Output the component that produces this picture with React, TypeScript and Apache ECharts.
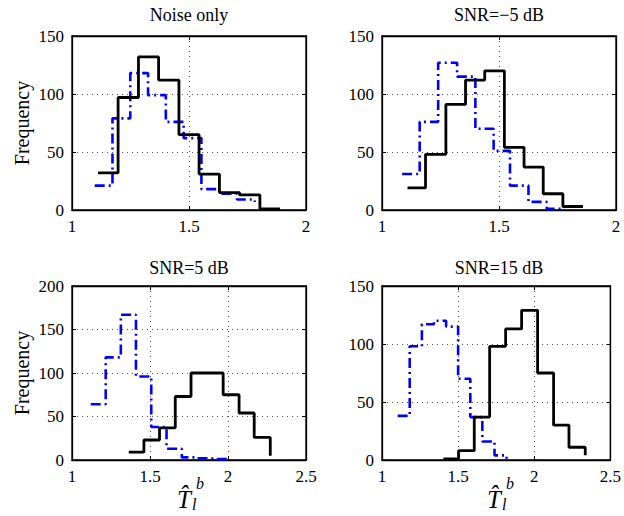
import React, { useEffect, useRef } from "react";
import * as echarts from "echarts";

// ---- data ----
const titles = ["Noise only", "SNR=\u22125 dB", "SNR=5 dB", "SNR=15 dB"];
const xMaxes = [2, 2, 2.5, 2.5];
const yMaxes = [150, 150, 200, 150];

// Panel 1: Noise only
const p1BlackX = [1.111, 1.197, 1.284, 1.37, 1.457, 1.543, 1.63, 1.716, 1.803, 1.889];
const p1BlackY = [32, 97, 132, 112, 65, 31, 15, 13, 1, 1];
const p1BlueX = [1.097, 1.173, 1.249, 1.325, 1.401, 1.477, 1.553, 1.629, 1.705, 1.781];
const p1BlueY = [21, 79, 118, 99, 76, 62, 18, 14, 9, 7];

// Panel 2: SNR = -5 dB
const p2BlackX = [1.109, 1.186, 1.273, 1.357, 1.439, 1.523, 1.607, 1.689, 1.773, 1.859];
const p2BlackY = [19, 48, 91, 112, 120, 54, 37, 14, 3, 3];
const p2BlueX = [1.086, 1.161, 1.24, 1.321, 1.399, 1.477, 1.547, 1.626, 1.704, 1.781];
const p2BlueY = [31, 76, 127, 115, 70, 51, 21, 7, 1, 1];

// Panel 3: SNR = 5 dB
const p3BlackX = [1.364, 1.461, 1.561, 1.662, 1.763, 1.866, 1.969, 2.071, 2.168, 2.271];
const p3BlackY = [9, 23, 37, 73, 100, 100, 75, 54, 26, 5];
const p3BlueX = [1.12, 1.216, 1.313, 1.41, 1.508, 1.606, 1.704, 1.8, 1.9, 1.996];
const p3BlueY = [64, 118, 167, 96, 38, 13, 3, 2, 1, 0];

// Panel 4: SNR = 15 dB
const p4BlackX = [1.403, 1.503, 1.606, 1.707, 1.812, 1.917, 2.022, 2.127, 2.228, 2.335];
const p4BlackY = [1, 8, 37, 98, 113, 129, 75, 30, 11, 4];
const p4BlueX = [1.103, 1.182, 1.262, 1.341, 1.421, 1.5, 1.58, 1.659, 1.739, 1.818];
const p4BlueY = [38, 98, 117, 120, 115, 70, 37, 16, 4, 1];

const blackXs = [p1BlackX, p2BlackX, p3BlackX, p4BlackX];
const blackYs = [p1BlackY, p2BlackY, p3BlackY, p4BlackY];
const blueXs = [p1BlueX, p2BlueX, p3BlueX, p4BlueX];
const blueYs = [p1BlueY, p2BlueY, p3BlueY, p4BlueY];

const FONT = "'Liberation Serif', 'Times New Roman', serif";

const zip = (xs: number[], ys: number[]) => xs.map((x, i) => [x, ys[i]]);

export default function App() {
  const ref = useRef<HTMLDivElement>(null);

  useEffect(() => {
    if (!ref.current) return;
    const chart = echarts.init(ref.current, undefined, { renderer: "svg" });

    const gridPos = [
      { left: 72, top: 36 },
      { left: 382, top: 36 },
      { left: 72, top: 286 },
      { left: 382, top: 286 },
    ];
    const grid = gridPos.map((g) => ({
      left: g.left,
      top: g.top,
      width: 234,
      height: 174,
      show: true,
      borderColor: "#000",
      borderWidth: 1.3,
      backgroundColor: "#fff",
    }));

    const axisLine = { show: true, onZero: false, lineStyle: { color: "#000", width: 1.3 } };
    const axisTick = { show: true, inside: true, length: 4, lineStyle: { color: "#000", width: 1 } };
    const splitLine = { show: true, lineStyle: { color: "#555", width: 1, type: [1, 4] } };
    const labelStyle = { color: "#000", fontFamily: FONT, fontSize: 17 };

    const xAxis: any[] = [];
    const yAxis: any[] = [];
    for (let i = 0; i < 4; i++) {
      xAxis.push({
        type: "value",
        gridIndex: i,
        min: 1,
        max: xMaxes[i],
        interval: 0.5,
        position: "bottom",
        axisLine,
        axisTick,
        splitLine,
        axisLabel: { ...labelStyle, margin: 8 },
      });
      yAxis.push({
        type: "value",
        gridIndex: i,
        min: 0,
        max: yMaxes[i],
        interval: 50,
        position: "left",
        axisLine,
        axisTick,
        splitLine,
        axisLabel: { ...labelStyle, margin: 8 },
        name: i % 2 === 0 ? "Frequency" : "",
        nameLocation: "middle",
        nameGap: 40,
        nameTextStyle: { color: "#000", fontFamily: FONT, fontSize: 20 },
      });
    }
    for (let i = 0; i < 4; i++) {
      xAxis.push({
        type: "value",
        gridIndex: i,
        min: 1,
        max: xMaxes[i],
        interval: 0.5,
        position: "top",
        axisLine,
        axisTick,
        splitLine: { show: false },
        axisLabel: { show: false },
      });
      yAxis.push({
        type: "value",
        gridIndex: i,
        min: 0,
        max: yMaxes[i],
        interval: 50,
        position: "right",
        axisLine,
        axisTick,
        splitLine: { show: false },
        axisLabel: { show: false },
      });
    }

    const series: any[] = [];
    for (let i = 0; i < 4; i++) {
      series.push({
        type: "line",
        xAxisIndex: i,
        yAxisIndex: i,
        step: "end",
        showSymbol: false,
        symbol: "none",
        data: zip(blueXs[i], blueYs[i]),
        lineStyle: { color: "#0000ff", width: 2.6, type: [10, 4, 2, 4] },
        z: 2,
      });
      series.push({
        type: "line",
        xAxisIndex: i,
        yAxisIndex: i,
        step: "end",
        showSymbol: false,
        symbol: "none",
        data: zip(blackXs[i], blackYs[i]),
        lineStyle: { color: "#000", width: 2.8 },
        z: 3,
      });
    }

    const title = titles.map((t, i) => ({
      text: t,
      left: gridPos[i].left + 117,
      top: i < 2 ? 6 : 259,
      textAlign: "center",
      padding: 0,
      textStyle: { color: "#000", fontFamily: FONT, fontSize: 18, fontWeight: "normal" },
    }));

    const xLabel = (dx: number) => ({
      type: "group",
      x: dx,
      y: 0,
      children: [
        {
          type: "text",
          x: 177,
          y: 499,
          style: {
            text: "T\u0302",
            fill: "#000",
            font: `italic 25px ${FONT}`,
            textVerticalAlign: "middle",
          },
        },
        {
          type: "text",
          x: 196,
          y: 483,
          style: { text: "b", fill: "#000", font: `italic 16px ${FONT}`, textVerticalAlign: "middle" },
        },
        {
          type: "text",
          x: 192,
          y: 504,
          style: { text: "l", fill: "#000", font: `italic 16px ${FONT}`, textVerticalAlign: "middle" },
        },
      ],
    });

    chart.setOption({
      animation: false,
      backgroundColor: "#fff",
      title,
      grid,
      xAxis,
      yAxis,
      series,
      graphic: [xLabel(0), xLabel(310)],
    });

    return () => chart.dispose();
  }, []);

  return (
    <div
      ref={ref}
      style={{ position: "fixed", left: 0, top: 0, width: 624, height: 516, background: "#fff" }}
    />
  );
}
